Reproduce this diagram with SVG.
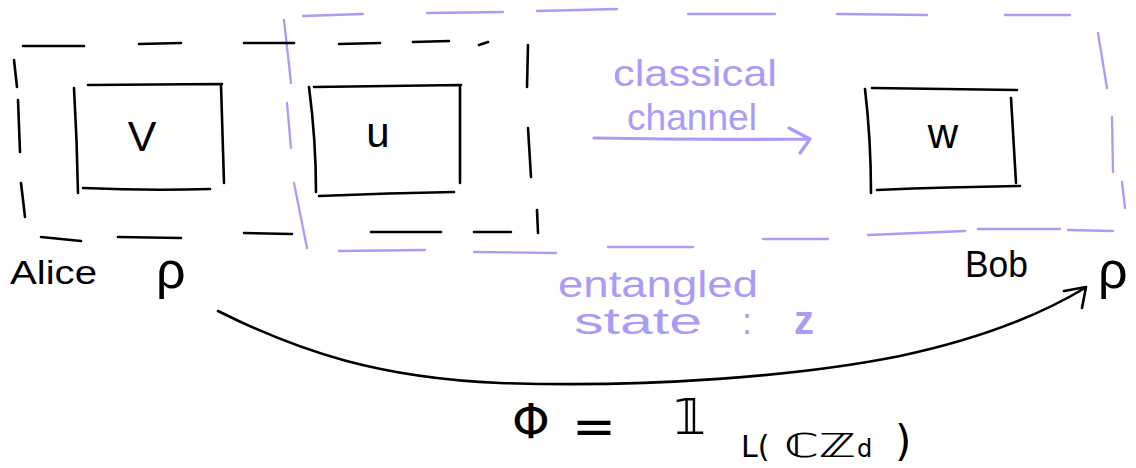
<svg xmlns="http://www.w3.org/2000/svg" width="1136" height="468" viewBox="0 0 1136 468">
  <defs>
    <style>
      .ink { fill: none; stroke: #000; stroke-width: 2.6; stroke-linecap: round; stroke-linejoin: round; }
      .lav { fill: none; stroke: #a99cf8; stroke-width: 2.3; stroke-linecap: round; stroke-linejoin: round; }
      .lav-arrow { fill: none; stroke: #a99cf8; stroke-width: 3.2; stroke-linecap: round; stroke-linejoin: round; }
      .txt { font-family: "Liberation Sans", Arial, sans-serif; fill: #000; }
      .ptxt { font-family: "Liberation Sans", Arial, sans-serif; fill: #a99cf8; }
      .math { font-family: "DejaVu Sans", "Liberation Sans", sans-serif; fill: #000; }
    </style>
  </defs>
  <rect width="1136" height="468" fill="#fff"/>

  <!-- Bob's side: lavender dashed region -->
  <g id="region-bob">
    <path class="lav" d="M303,16 L363,14 M427,13 L503,12 M537,11 L617,9 M688,14 L775,14 M837,14 L927,15 M1005,15 L1070,15
                         M1098,33 L1107,88 M1112,117 L1113,172 M1122,182 L1125,208
                         M339,251 L425,250 M474,252 L556,253 M608,247 L693,247 M763,239 L828,239 M868,235 L965,231 M978,229 L1060,229 M1068,230 L1113,231
                         M284,20 L291,83 M287,103 L291,148 M294,183 L307,248"/>
  </g>

  <!-- Alice's side: black dashed region -->
  <g id="region-alice">
    <path class="ink" d="M23,46 L84,46 M139,44 L181,43 M244,43 L294,43 M339,44 L380,43 M413,42 L449,41 M479,45 L488,42
                         M528,45 L527,87 M528,128 L531,177 M537,210 L538,233
                         M41,237 L81,241 M118,237 L181,238 M244,233 L292,234 M371,232 L441,232 M474,232 L511,232
                         M14,60 L17,87 M18,100 L20,152 M21,183 L25,217"/>
    <text class="txt" x="10" y="284" font-size="34" textLength="87" lengthAdjust="spacingAndGlyphs">Alice</text>
    <text class="txt" x="156" y="288" font-size="52">ρ</text>
  </g>

  <!-- Node V -->
  <g id="node-v">
    <path class="ink" d="M88,85 L222,84 M74,88 Q77,140 78,193 M221,85 L224,183 M83,188 Q150,191 210,189"/>
    <text class="txt" x="142" y="151" font-size="43" text-anchor="middle">V</text>
  </g>

  <!-- Node U -->
  <g id="node-u">
    <path class="ink" d="M314,87 L461,85 M309,87 Q316,140 316,192 M460,87 L460,183 M319,196 Q390,193 454,192"/>
    <text class="txt" x="378" y="147" font-size="42" text-anchor="middle">u</text>
  </g>

  <!-- Node W -->
  <g id="node-w">
    <path class="ink" d="M872,88 L1017,90 M865,89 Q871,140 871,193 M1011,98 L1016,183 M877,190 Q950,187 1020,186"/>
    <text class="txt" x="943" y="148" font-size="42" text-anchor="middle">w</text>
  </g>

  <!-- Bob label -->
  <g id="label-bob">
    <text class="txt" x="965" y="277" font-size="36" textLength="63" lengthAdjust="spacingAndGlyphs">Bob</text>
    <text class="txt" x="1098" y="288" font-size="52">ρ</text>
  </g>

  <!-- Connectors -->
  <g id="connectors">
    <!-- classical channel -->
    <path class="lav-arrow" d="M594,138 Q700,140 810,139 M789,128 L810,139 L800,153"/>
    <text class="ptxt" x="613" y="86" font-size="36" textLength="164" lengthAdjust="spacingAndGlyphs">classical</text>
    <text class="ptxt" x="627" y="130" font-size="36" textLength="130" lengthAdjust="spacingAndGlyphs">channel</text>
    <!-- entangled state -->
    <path class="ink" d="M218,311 C300,352 380,378 500,383 C650,388 800,376 900,356 C980,339 1040,315 1085,288 M1064,291 L1086,287 L1082,308"/>
    <text class="ptxt" x="558" y="297" font-size="36" textLength="200" lengthAdjust="spacingAndGlyphs">entangled</text>
    <text class="ptxt" x="574" y="334" font-size="36" textLength="128" lengthAdjust="spacingAndGlyphs">state</text>
    <text class="ptxt" x="742" y="334" font-size="36">:</text>
    <text class="ptxt" x="794" y="334" font-size="40" font-weight="bold">z</text>
  </g>

  <!-- Channel identity -->
  <g id="formula">
    <text class="math" x="512" y="438" font-size="48">Φ</text>
    <text class="math" x="572" y="444" font-size="52" textLength="44" lengthAdjust="spacingAndGlyphs">=</text>
    <text class="math" x="674" y="434" font-size="50">𝟙</text>
    <text class="math" x="741" y="457" font-size="30">L(</text>
    <text class="math" x="784" y="457" font-size="33" textLength="72" lengthAdjust="spacingAndGlyphs">ℂℤ</text>
    <text class="math" x="857" y="457" font-size="24">d</text>
    <text class="math" x="895" y="456" font-size="42">)</text>
  </g>
</svg>
